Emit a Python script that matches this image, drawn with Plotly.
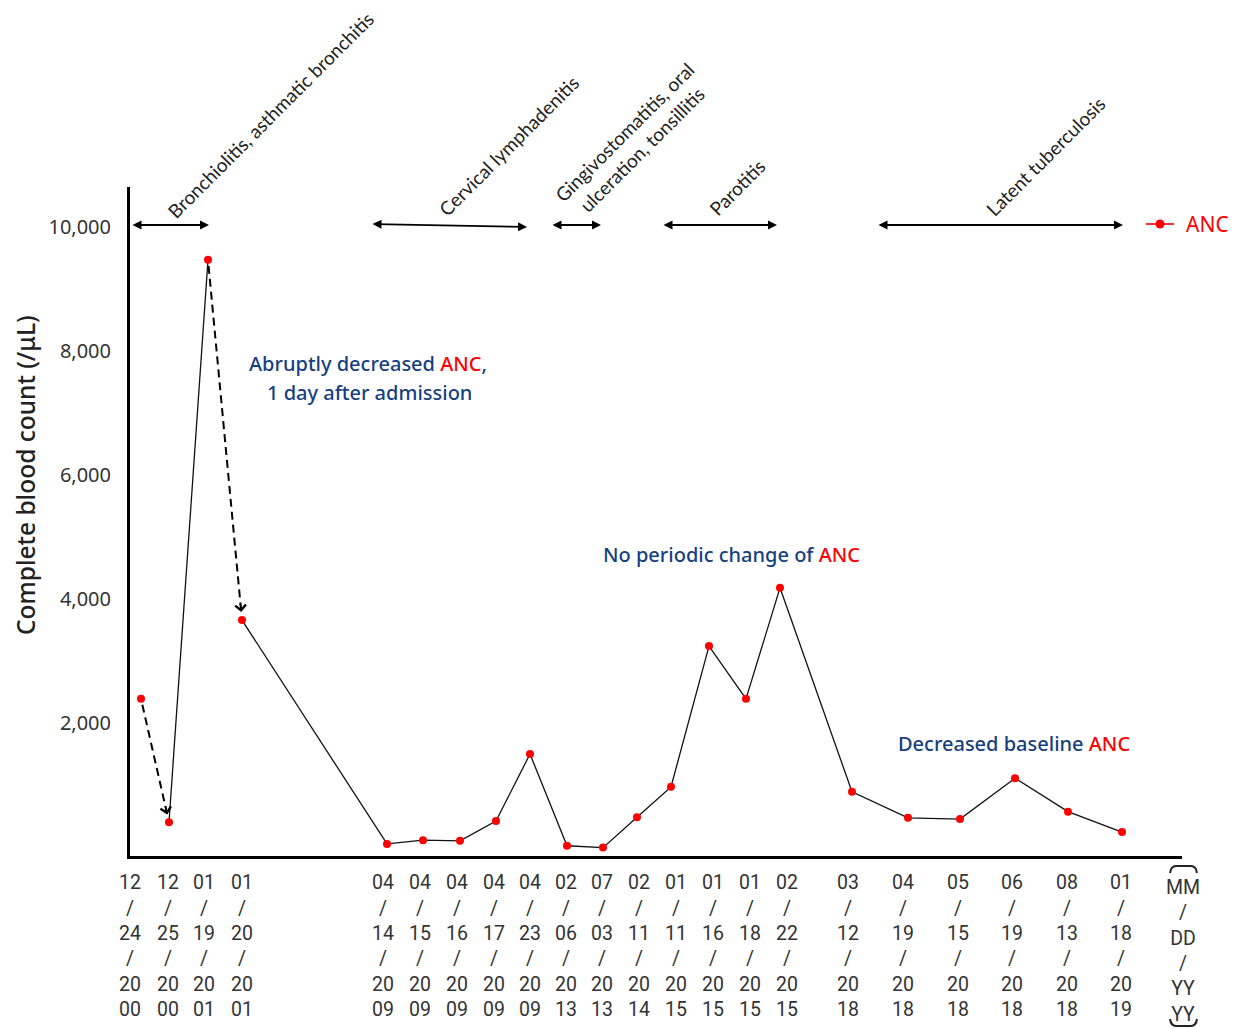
import plotly.graph_objects as go

# ---------------- data ----------------
dates = ["12/24/2000", "12/25/2000", "01/19/2001", "01/20/2001",
         "04/14/2009", "04/15/2009", "04/16/2009", "04/17/2009", "04/23/2009",
         "02/06/2013", "07/03/2013", "02/11/2014",
         "01/11/2015", "01/16/2015", "01/18/2015", "02/22/2015",
         "03/12/2018", "04/19/2018", "05/15/2018", "06/19/2018", "08/13/2018",
         "01/18/2019"]
anc = [2390, 400, 9470, 3660,
       50, 110, 100, 420, 1500,
       20, -10, 480,
       970, 3240, 2390, 4180,
       890, 470, 450, 1110, 570,
       240]
# horizontal slot of each measurement on the (non-linear) time axis
x_slot = [141, 169, 208, 242,
          387, 423, 460, 496, 530,
          567, 603, 637,
          671, 709, 746, 780,
          852, 908, 960, 1015, 1068,
          1122]
tick_slot = [130, 168, 204, 242,
             383, 420, 457, 494, 530,
             566, 602, 639,
             676, 713, 750, 787,
             848, 903, 958, 1012, 1067,
             1121]
y_ticks = [2000, 4000, 6000, 8000, 10000]
episodes = ["Bronchiolitis, asthmatic bronchitis",
            "Cervical lymphadenitis",
            "Gingivostomatitis, oral<br>ulceration, tonsillitis",
            "Parotitis",
            "Latent tuberculosis"]
series_name = "ANC"

# ---------------- layout helpers (page pixel coordinates) ----------------
W, H = 1234, 1029
PL, PR, PT, PB = 130, 1182, 187, 856
Y0PX, PXPER = 847, 0.062             # pixel of value 0, pixels per unit


def yv(py):
    return (Y0PX - py) / PXPER


def ypaper(py):
    return (PB - py) / (PB - PT)


def xpaper(px):
    return (px - PL) / (PR - PL)


def vpx(v):
    return Y0PX - v * PXPER


BLUE = "#173f80"
RED = "#ff0000"
TXT = "#333333"

tick_text = []
for d in dates:
    m, dd, yy = d.split("/")
    tick_text.append(f"{m}<br>/<br>{dd}<br>/<br>{yy[:2]}<br>{yy[2:]}")

fig = go.Figure()

# dashed arrows (abrupt drops)
annotations = []
for i in (0, 2):
    x1, y1 = x_slot[i], vpx(anc[i])
    x2, y2 = x_slot[i + 1], vpx(anc[i + 1])
    L = ((x2 - x1) ** 2 + (y2 - y1) ** 2) ** 0.5
    ux, uy = (x2 - x1) / L, (y2 - y1) / L
    ex, ey = x2 - ux * 8, y2 - uy * 8
    sx, sy = x1 + ux * 6, y1 + uy * 6
    fig.add_trace(go.Scatter(x=[sx, ex], y=[yv(sy), yv(ey)], mode="lines",
                             line=dict(color="black", width=2, dash="8px,5px"),
                             showlegend=False, hoverinfo="skip"))
    annotations.append(dict(x=ex, y=yv(ey), xref="x", yref="y", text="",
                            showarrow=True, arrowhead=4, arrowsize=1.3,
                            arrowwidth=1.6, arrowcolor="black",
                            ax=-ux * 10, ay=-uy * 10, standoff=0))

# solid lines (no line between 1st-2nd and 3rd-4th measurement)
fig.add_trace(go.Scatter(x=x_slot[1:3], y=anc[1:3], mode="lines",
                         line=dict(color="#111111", width=1.3),
                         showlegend=False, hoverinfo="skip"))
fig.add_trace(go.Scatter(x=x_slot[3:], y=anc[3:], mode="lines",
                         line=dict(color="#111111", width=1.3),
                         showlegend=False, hoverinfo="skip"))
fig.add_trace(go.Scatter(x=x_slot, y=anc, mode="markers", name=series_name,
                         marker=dict(color=RED, size=8),
                         showlegend=False, text=dates))

# episode double arrows
arrow_spans = [(131, 209, 225, 225), (371, 527, 224, 227), (551, 601, 225, 225),
               (662, 777, 225, 225), (877, 1123, 225, 225)]
for xa, xb, ya, yb in arrow_spans:
    annotations.append(dict(x=xb, y=yv(yb), ax=xa, ay=yv(ya), xref="x", yref="y",
                            axref="x", ayref="y", text="", showarrow=True,
                            arrowhead=2, arrowside="end+start", arrowsize=1,
                            arrowwidth=1.8, arrowcolor="black", standoff=0,
                            startstandoff=0))

# rotated episode labels
label_centers = [(271, 115), (509, 146), (633, 141), (737, 188), (1045, 156)]
for txt, (cx, cy) in zip(episodes, label_centers):
    annotations.append(dict(x=xpaper(cx), y=ypaper(cy), xref="paper", yref="paper",
                            text=txt, textangle=-45, showarrow=False,
                            font=dict(family="Lato", size=19, color="#222222"),
                            xanchor="center", yanchor="middle"))


def red(s):
    return f"<span style='color:{RED}'>{s}</span>"


comments = [("Abruptly decreased " + red("ANC") + ",", 368, 363),
            ("1 day after admission", 369, 392),
            ("No periodic change of " + red("ANC"), 731, 554),
            ("Decreased baseline " + red("ANC"), 1014, 743)]
for txt, cx, cy in comments:
    annotations.append(dict(x=xpaper(cx), y=ypaper(cy), xref="paper", yref="paper",
                            text=txt, showarrow=False, xanchor="center",
                            yanchor="middle",
                            font=dict(family="Noto Sans", size=20, color=BLUE,
                                      weight=500)))

# y-axis title
annotations.append(dict(x=xpaper(25), y=ypaper(475), xref="paper",
                        yref="paper", text="Complete blood count (/μL)",
                        textangle=-90, showarrow=False,
                        font=dict(family="Noto Sans", size=24.5, color="#222222",
                                  weight=500),
                        xanchor="center", yanchor="middle"))

# MM/DD/YY label
annotations.append(dict(x=xpaper(1183), y=ypaper(874), xref="paper", yref="paper",
                        text="MM<br>/<br>DD<br>/<br>YY<br>YY", showarrow=False,
                        xanchor="center", yanchor="top",
                        font=dict(family="Roboto", size=19.5, color=TXT)))

# legend key (drawn so that it does not push the plot margins)
annotations.append(dict(x=xpaper(1184), y=ypaper(224), xref="paper", yref="paper",
                        text=series_name, showarrow=False, xanchor="left",
                        yanchor="middle",
                        font=dict(family="Noto Sans", size=21, color=RED)))


def brace(y_tip, y_end):
    return (f"M{xpaper(1170)},{ypaper(y_end)} Q{xpaper(1171)},{ypaper(y_tip)} "
            f"{xpaper(1176)},{ypaper(y_tip)} L{xpaper(1191)},{ypaper(y_tip)} "
            f"Q{xpaper(1196)},{ypaper(y_tip)} {xpaper(1197)},{ypaper(y_end)}")


shapes = [
    dict(type="path", xref="paper", yref="paper", path=brace(866, 873),
         line=dict(color="#222222", width=2)),
    dict(type="path", xref="paper", yref="paper", path=brace(1026, 1019),
         line=dict(color="#222222", width=2)),
    dict(type="line", xref="paper", yref="paper", x0=xpaper(1146), x1=xpaper(1174),
         y0=ypaper(224), y1=ypaper(224), line=dict(color="#ff3030", width=2)),
    dict(type="circle", xref="paper", yref="paper", x0=xpaper(1155.5),
         x1=xpaper(1164.5), y0=ypaper(228.5), y1=ypaper(219.5),
         fillcolor=RED, line=dict(color=RED, width=0)),
]

fig.update_layout(
    width=W, height=H, autosize=False,
    margin=dict(l=PL, r=W - PR, t=PT, b=H - PB, pad=0),
    plot_bgcolor="white", paper_bgcolor="white",
    showlegend=False,
    annotations=annotations,
    shapes=shapes,
    xaxis=dict(range=[PL, PR], showgrid=False, zeroline=False, showline=True,
               automargin=False,
               linecolor="black", linewidth=3, tickmode="array",
               tickvals=tick_slot, ticktext=tick_text, ticks="",
               ticklabelstandoff=7,
               tickfont=dict(family="Roboto", size=19.5, color=TXT)),
    yaxis=dict(range=[yv(PB), yv(PT)], showgrid=False, zeroline=False,
               showline=True, automargin=False, linecolor="black", linewidth=3,
               tickmode="array", tickvals=y_ticks, tickformat=",", ticks="",
               ticklabelstandoff=12,
               tickfont=dict(family="Noto Sans", size=20, color=TXT)),
)

# place the figure at the page origin (no default body margin, no scrollbars)
fig.write_html("out.html",
               config={"displayModeBar": False},
               post_script="document.body.style.margin='0';"
                           "document.body.style.overflow='hidden';")
